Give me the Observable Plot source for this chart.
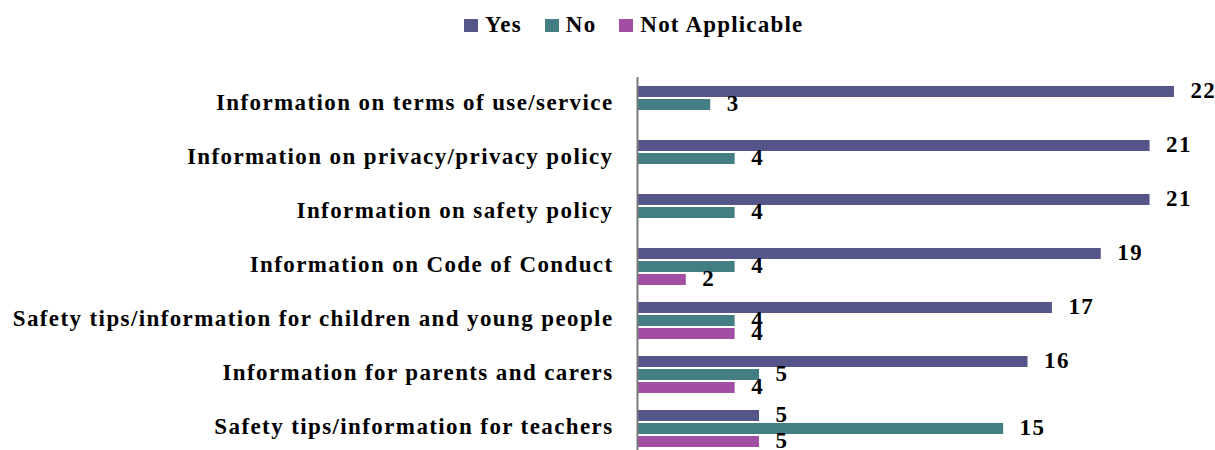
<!DOCTYPE html>
<html>
<head>
<meta charset="utf-8">
<script src="https://cdn.jsdelivr.net/npm/d3@7"></script>
<script src="https://cdn.jsdelivr.net/npm/@observablehq/plot@0.6"></script>
<style>
  body { margin: 0; background: #fff; }
  #legend { height: 50px; display: flex; align-items: center; padding-left: 464px;
    font-family: "Liberation Serif", serif; font-weight: bold; font-size: 23px; letter-spacing: 1.2px; color: #000; }
  .item { display: flex; align-items: center; margin-right: 23px; }
  .sw { width: 14px; height: 13px; margin-right: 7px; }
  .lab { line-height: 23px; margin-top: -2px; }
</style>
</head>
<body>
<div id="legend"></div>
<div id="chart"></div>
<script>
const categories = [
  "Information on terms of use/service",
  "Information on privacy/privacy policy",
  "Information on safety policy",
  "Information on Code of Conduct",
  "Safety tips/information for children and young people",
  "Information for parents and carers",
  "Safety tips/information for teachers"
];
const series = ["Yes", "No", "Not Applicable"];
const colors = ["#55558A", "#437F82", "#A24FA3"];
const yesValues = [22, 21, 21, 19, 17, 16, 5];
const noValues = [3, 4, 4, 4, 4, 5, 15];
const naValues = [null, null, null, 2, 4, 4, 5];

const data = [];
categories.forEach((c, i) => {
  [yesValues, noValues, naValues].forEach((arr, j) => {
    if (arr[i] != null) data.push({category: c, series: series[j], value: arr[i]});
  });
});

const legend = document.getElementById("legend");
series.forEach((s, j) => {
  const it = document.createElement("div");
  it.className = "item";
  it.innerHTML = `<div class="sw" style="background:${colors[j]}"></div><div class="lab">${s}</div>`;
  legend.appendChild(it);
});

const font = {fontFamily: "Liberation Serif, serif", fontWeight: "bold", fontSize: "23px", letterSpacing: "1.4px", color: "#000", background: "#fff"};

const chart = Plot.plot({
  width: 1215,
  height: 26 + 7 * 54.33,
  marginTop: 26,
  marginBottom: 0,
  marginLeft: 637,
  marginRight: 41,
  style: font,
  x: {domain: [0, 22], axis: null},
  y: {domain: series, paddingInner: 0.18, paddingOuter: 0.617, axis: null},
  fy: {domain: categories, padding: 0, axis: null},
  color: {domain: series, range: colors},
  marks: [
    Plot.axisFy({anchor: "left", tickSize: 0, tickPadding: 24, label: null, fontSize: 23, fill: "#000", dy: -2}),
    Plot.barX(data, {x: "value", y: "series", fy: "category", fill: "series"}),
    Plot.text(data, {x: "value", y: "series", fy: "category", text: d => String(d.value), dx: 16, dy: -1.5, textAnchor: "start", fontSize: 23, fill: "#000"}),
    Plot.ruleX([0], {stroke: "#7a7a7a", strokeWidth: 2})
  ]
});
document.getElementById("chart").appendChild(chart);
</script>
</body>
</html>
